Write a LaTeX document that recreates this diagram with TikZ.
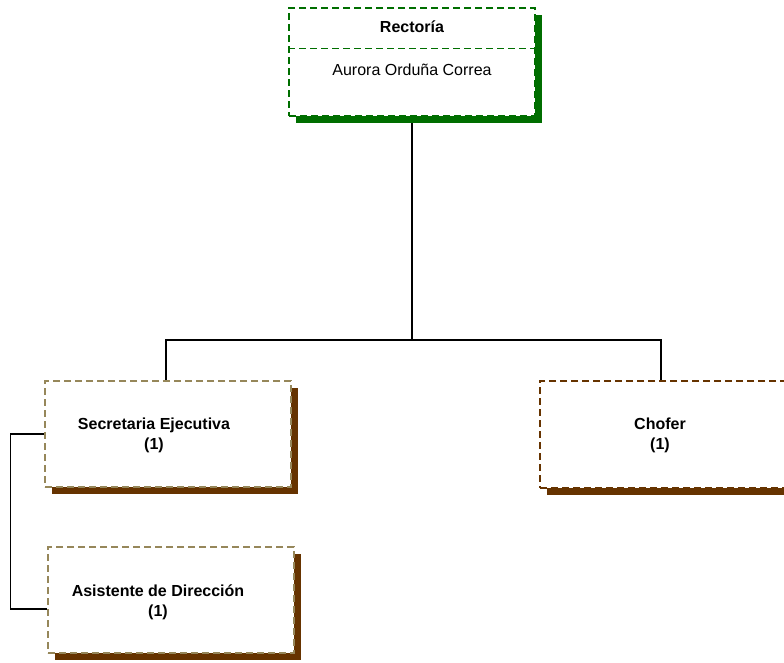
\documentclass[tikz,border=0pt]{standalone}
\usepackage{fontspec}
\setmainfont{Liberation Sans}
\usetikzlibrary{shadows,backgrounds}
\definecolor{rectgreen}{RGB}{0,110,0}
\definecolor{cafe}{RGB}{102,51,0}
\definecolor{arena}{RGB}{150,135,90}

\begin{document}
\begin{tikzpicture}[x=1pt,y=-1pt,
  caja/.style={rectangle, fill=white, line width=1.1pt, dash pattern=on 7pt off 4pt,
    minimum width=246pt, minimum height=106pt, inner sep=0pt},
  sombra/.style={drop shadow={shadow xshift=7pt, shadow yshift=-7pt, fill=#1, opacity=1}},
  rotulo/.style={align=center, font=\fontsize{16}{20}\selectfont\bfseries},
  linea/.style={line width=1.3pt}]
\useasboundingbox (0,0) rectangle (784,662);
\clip (0,0) rectangle (784,662);
% rectoria
\node[caja, draw=rectgreen, minimum height=108pt, sombra=rectgreen] (rect) at (412,62) {};
\draw[rectgreen, line width=1.1pt, dash pattern=on 7pt off 4pt]
  ([yshift=-41pt]rect.north west) -- ([yshift=-41pt]rect.north east);
\node[font=\fontsize{16}{20}\selectfont\bfseries] (rectnombre) at (412,27) {Rectoría};
\node[font=\fontsize{16}{20}\selectfont] (rectaurora) at (412,70) {Aurora Orduña Correa};
% cargos
\node[caja, draw=arena, sombra=cafe] (secbox) at (168,434) {};
\node[rotulo] (sectexto) at (154,435) {Secretaria Ejecutiva\\(1)};
\node[caja, draw=arena, sombra=cafe] (asisbox) at (171,600) {};
\node[rotulo] (asistexto) at (158,602) {Asistente de Dirección\\(1)};
\node[caja, draw=cafe, sombra=cafe, minimum height=107pt] (chofbox) at (663,434.5) {};
\node[rotulo] (choftexto) at (660,435) {Chofer\\(1)};
% lineas
\begin{scope}[on background layer]
\coordinate (bus) at (412,340);
\draw[linea] (rect) -- (bus);
\draw[linea] ([xshift=-2pt]secbox.north) |- (bus) -| ([xshift=-2pt]chofbox.north);
\draw[linea] (secbox.west) -- ++(-34,0) |- ([yshift=-9pt]asisbox.west);
\end{scope}
\end{tikzpicture}
\end{document}
